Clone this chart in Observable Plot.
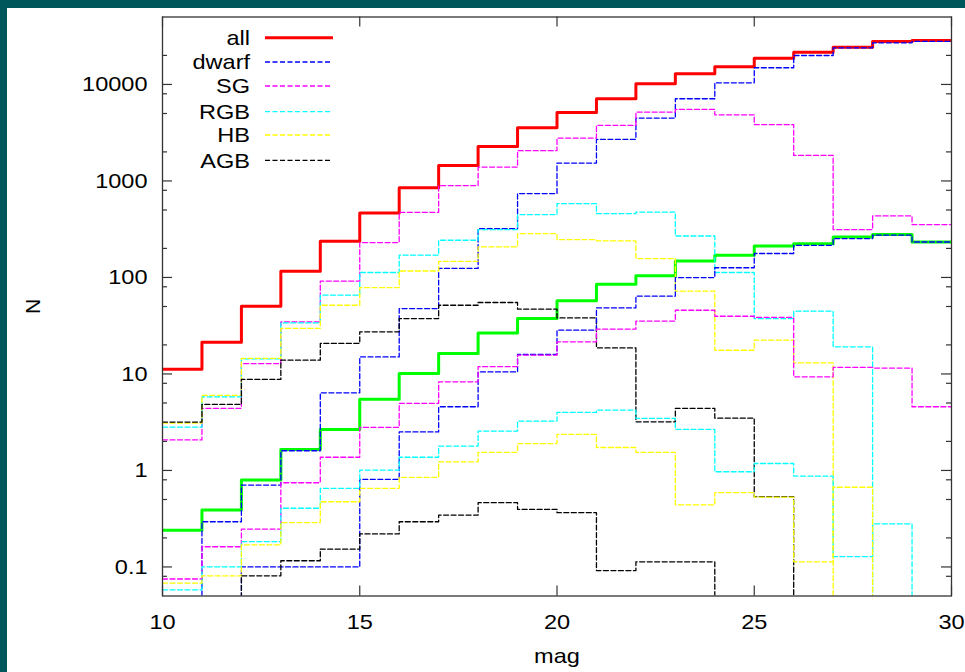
<!DOCTYPE html>
<html><head><meta charset="utf-8">
<script src="https://cdn.jsdelivr.net/npm/d3@7"></script>
<script src="https://cdn.jsdelivr.net/npm/@observablehq/plot@0.6"></script>
<style>
html,body{margin:0;padding:0;width:965px;height:672px;overflow:hidden;background:#00575b;}
#panel{position:absolute;left:7px;top:8px;width:958px;height:664px;background:#fff;}
#chart{position:absolute;left:0;top:0;}
#legend{position:absolute;left:0;top:0;pointer-events:none;}
</style></head><body>
<div id="panel"><div id="chart"></div><svg id="legend" width="400" height="200"></svg></div>
<script>
// bin starts (mag), last edge
const magStart = [10,11,12,13,14,15,16,17,18,19,20,21,22,23,24,25,26,27,28,29];
const magEnd = 30;

// upper group
const allA   = [11.2,21.3,50.3,116,237,465,852,1450,2280,3565,5130,7110,10160,12900,15300,18720,21600,24300,27900,28500];
const dwarfA = [0,0.294,0.706,1.6,6.37,15.0,47.6,124,321,740,1531,2698,4480,7110,10400,14900,19950,23990,27000,28000];
const sgA    = [2.07,4.4,12.8,34.6,91.4,230,473,894,1393,2061,2782,3768,5170,5510,4850,3830,1840,313,434,353];
const rgbA   = [2.81,5.8,14.3,33.8,65.5,112.5,170,243,313,448,582,458,476,269,112.5,37.5,44.7,19.1,0,0];
const hbA    = [3.1,6.0,14.5,29.6,51.5,78.5,116.7,147,207,285,247,239,157,72,17.6,22.4,13.0,0,0,0];
const agbA   = [3.17,4.83,8.77,13.9,20.7,27.3,37.5,51.5,55.0,46.9,38.1,18.6,3.19,4.40,3.48,0.535,0,0,0,0];

// lower group
const allB   = [0.24,0.389,0.796,1.65,2.66,5.48,10.1,16.3,26.6,37.5,57.2,85.1,104,148,170,212,224,262,278,233];
const dwarfB = [0,0,0.1,0.1,0.1,0.81,2.51,4.57,10.5,15.9,28.4,48.3,63.9,99.7,126,177,215,253,274,233];
const sgB    = [0.075,0.162,0.247,0.746,1.37,2.79,4.96,8.28,11.9,15.7,21.5,29.1,35.3,45.7,39.6,38.5,9.34,11.7,11.5,4.57];
const rgbB   = [0.058,0.1,0.183,0.406,0.653,1.01,1.37,1.79,2.56,3.24,3.99,4.22,3.46,2.66,0.97,1.18,0.875,0.128,0.279,0];
const hbB    = [0.068,0.081,0.169,0.288,0.474,0.653,0.849,1.23,1.54,1.90,2.36,1.73,1.54,0.44,0.59,0.53,0.113,0.67,0,0];
const agbB   = [0,0,0.081,0.116,0.153,0.22,0.294,0.345,0.463,0.395,0.365,0.0917,0.113,0.113,0,0,0,0,0,0];

const legendLabels = ["all","dwarf","SG","RGB","HB","AGB"];
const seriesColors = {all:"#ff0000", all2:"#00ff00", dwarf:"#0000ff", SG:"#ff00ff", RGB:"#00ffff", HB:"#ffff00", AGB:"#000000"};

const xTickValues = [10,15,20,25,30];
const xTickLabels = ["10","15","20","25","30"];
const yTickValues = [0.1,1,10,100,1000,10000];
const yTickLabels = ["0.1","1","10","100","1000","10000"];
const yMinorTicks = [0.08,0.2,0.5,0.8,2,5,8,20,50,80,200,500,800,2000,5000,8000,20000];

function rows(key, values) {
  const r = magStart.map((m, i) => ({mag: m, n: values[i] > 0 ? values[i] : 1e-4, key}));
  r.push({mag: magEnd, n: r[r.length - 1].n, key});
  return r;
}

const W = 958, H = 664, mL = 155, mR = 14, mT = 8.5, mB = 76.5;
const fw = W - mL - mR, fh = H - mT - mB;
const font = "'Liberation Sans', Arial, sans-serif";

const solidA = rows("allA", allA), solidB = rows("allB", allB);
const dashedSets = [
  ["dwarf", dwarfA], ["SG", sgA], ["RGB", rgbA], ["HB", hbA], ["AGB", agbA],
  ["dwarf", dwarfB], ["SG", sgB], ["RGB", rgbB], ["HB", hbB], ["AGB", agbB]
];

const lineMarks = [
  Plot.line(solidA, {x: "mag", y: "n", curve: "step-after", stroke: seriesColors.all, strokeWidth: 3, clip: true}),
  Plot.line(solidB, {x: "mag", y: "n", curve: "step-after", stroke: seriesColors.all2, strokeWidth: 3, clip: true}),
  ...dashedSets.map(([name, vals], j) =>
    Plot.line(rows(name + j, vals), {x: "mag", y: "n", curve: "step-after", stroke: seriesColors[name],
      strokeWidth: 1.3, strokeDasharray: "5,2.5", clip: true}))
];

const ink = "#333";
const plot = Plot.plot({
  width: W, height: H,
  marginLeft: mL, marginRight: mR, marginTop: mT, marginBottom: mB,
  style: {fontFamily: font, fontSize: "21px", color: "#000", background: "transparent", overflow: "visible"},
  x: {domain: [10, 30]},
  y: {type: "log", domain: [0.05, 50000]},
  marks: [
    ...lineMarks,
    Plot.frame({stroke: ink, strokeWidth: 1.3}),
    Plot.tickY(yTickValues, {y: d => d, insetRight: fw - 10, stroke: ink, strokeWidth: 1.2}),
    Plot.tickY(yTickValues, {y: d => d, insetLeft: fw - 10, stroke: ink, strokeWidth: 1.2}),
    Plot.tickY(yMinorTicks, {y: d => d, insetRight: fw - 5, stroke: ink, strokeWidth: 1.2}),
    Plot.tickY(yMinorTicks, {y: d => d, insetLeft: fw - 5, stroke: ink, strokeWidth: 1.2}),
    Plot.tickX(xTickValues, {x: d => d, insetTop: fh - 10, stroke: ink, strokeWidth: 1.2}),
    Plot.tickX(xTickValues, {x: d => d, insetBottom: fh - 10, stroke: ink, strokeWidth: 1.2}),
    Plot.axisY({ticks: yTickValues, tickSize: 0, tickPadding: 15, fontSize: 21,
      tickFormat: d => yTickLabels[yTickValues.indexOf(d)],
      label: "N", labelAnchor: "center", labelOffset: 137, labelArrow: "none"}),
    Plot.axisX({ticks: xTickValues, tickSize: 0, tickPadding: 18, fontSize: 21,
      tickFormat: d => xTickLabels[xTickValues.indexOf(d)],
      label: "mag", labelAnchor: "center", labelOffset: 67, labelArrow: "none"})
  ]
});
document.getElementById("chart").appendChild(plot);

// legend (top-left inside the frame)
const lg = d3.select("#legend");
const rowY = [29.7, 54, 78, 103.7, 127, 152.3];
legendLabels.forEach((lab, i) => {
  lg.append("text").attr("x", 243).attr("y", rowY[i]).attr("dy", "0.35em")
    .attr("text-anchor", "end").attr("font-family", font).attr("font-size", 21).attr("fill", "#000").text(lab);
  const ln = lg.append("line").attr("x1", 258).attr("x2", i === 0 ? 326 : 323)
    .attr("y1", rowY[i]).attr("y2", rowY[i]).attr("stroke", seriesColors[lab])
    .attr("stroke-width", i === 0 ? 3 : 1.3);
  if (i > 0) ln.attr("stroke-dasharray", "5,2.5");
});

// the reference's lettering is slightly wider than the font: stretch glyphs horizontally
document.querySelectorAll("#panel text").forEach(t => {
  const len = t.getComputedTextLength();
  if (len > 0 && !t.closest("[aria-label='y-axis label']")) {
    t.setAttribute("textLength", (len * 1.12).toFixed(1));
    t.setAttribute("lengthAdjust", "spacingAndGlyphs");
  }
});
</script>
</body></html>
